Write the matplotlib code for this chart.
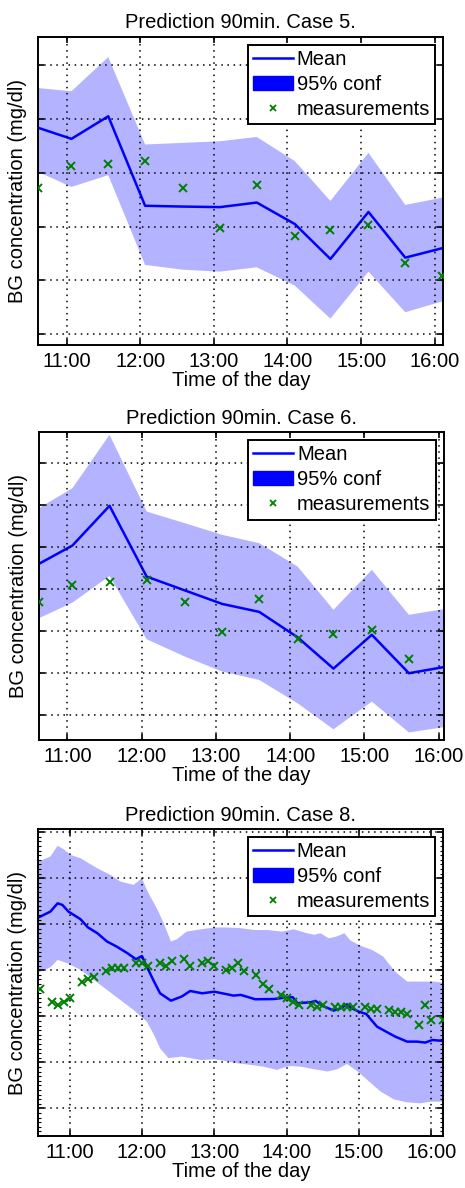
import matplotlib
matplotlib.use("Agg")
import matplotlib.pyplot as plt
from matplotlib.patches import Patch
from matplotlib.lines import Line2D
from matplotlib.ticker import MultipleLocator

plt.rcParams['font.family'] = ['Liberation Sans', 'DejaVu Sans']

# time is in minutes after 10:00
tick_minutes = [60, 120, 180, 240, 300, 360]
tick_labels = ['11:00', '12:00', '13:00', '14:00', '15:00', '16:00']

# Case 5
c5_t = [37, 64, 94, 124, 155, 185, 215, 246, 275, 306, 336, 366]
c5_mean = [176.8, 172.7, 181.1, 147.8, 147.5, 147.3, 149.0, 141.0, 128.0, 145.5, 128.5, 132.0]
c5_upper = [191.6, 190.4, 203.1, 170.6, 171.2, 171.8, 173.4, 164.4, 149.6, 167.5, 148.1, 150.8]
c5_lower = [160.4, 154.8, 159.2, 125.8, 124.0, 123.3, 124.9, 118.1, 105.8, 123.3, 108.2, 112.2]
c5_meas_t = [37, 64, 94, 124, 155, 185, 215, 246, 275, 306, 336, 366]
c5_meas = [154.3, 162.6, 163.4, 164.4, 154.3, 139.5, 155.4, 136.6, 138.7, 140.6, 126.5, 121.6]

# Case 6
c6_t = [37, 64, 94, 124, 155, 185, 215, 246, 275, 306, 336, 364]
c6_mean = [151.8, 160.5, 179.4, 145.7, 139.1, 132.7, 128.9, 116.8, 101.9, 118.0, 99.7, 102.6]
c6_upper = [178.3, 187.8, 213.2, 176.7, 171.1, 165.6, 161.6, 150.5, 129.9, 148.9, 127.5, 130.2]
c6_lower = [125.9, 133.3, 146.0, 115.9, 107.6, 100.5, 96.5, 85.4, 73.0, 86.2, 71.5, 74.0]
c6_meas_t = [37, 64, 94, 124, 155, 185, 215, 246, 275, 306, 336]
c6_meas = [133.8, 141.8, 143.0, 144.1, 133.8, 119.2, 134.9, 116.0, 118.3, 120.3, 106.4]

# Case 8
c8_t = [34, 44, 50, 54, 59, 69, 75, 83, 91, 99, 108, 115, 120, 124, 130, 135, 144,
        153, 160, 170, 180, 196, 202, 214, 229, 239, 245, 249, 260, 264, 270, 279,
        285, 290, 294, 300, 306, 315, 324, 330, 340, 348, 355, 361, 370]
c8_mean = [182.9, 185.5, 189.1, 188.4, 185.5, 182.2, 178.7, 176.1, 172.5, 170.3, 167.4,
           164.8, 166.2, 161.6, 155.1, 150.0, 146.8, 148.6, 151.0, 150.0, 150.7, 149.0,
           149.3, 147.4, 147.5, 148.1, 148.3, 145.7, 146.1, 146.7, 144.5, 142.5, 143.5,
           145.2, 143.5, 142.0, 141.0, 135.5, 132.9, 131.2, 129.0, 129.0, 128.6, 129.7, 129.3]
c8_up_t = [34, 44, 50, 55, 61, 69, 75, 83, 94, 102, 113, 120, 124, 133, 138, 144, 149,
           157, 169, 180, 191, 202, 213, 224, 236, 246, 257, 263, 268, 275, 281, 288,
           293, 303, 311, 320, 330, 340, 351, 362, 370]
c8_upper = [207.2, 209.4, 214.1, 212.6, 210.1, 208.7, 206.8, 204.3, 201.4, 198.6, 197.1,
            200.0, 194.9, 186.2, 180.4, 172.5, 173.5, 176.8, 177.8, 178.6, 178.6, 178.3,
            177.5, 177.5, 176.8, 177.8, 176.1, 175.4, 176.1, 173.9, 174.6, 176.1, 172.9,
            170.3, 168.8, 166.0, 159.4, 155.1, 155.1, 155.1, 154.6]
c8_lo_t = [34, 44, 50, 58, 69, 80, 91, 102, 113, 119, 124, 130, 135, 142, 153, 169, 180,
           188, 199, 210, 221, 232, 238, 243, 252, 263, 274, 282, 290, 299, 307, 318,
           329, 340, 351, 359, 370]
c8_lower = [159.0, 161.3, 164.5, 163.1, 160.2, 155.8, 151.5, 147.1, 142.8, 139.9, 137.7,
            131.9, 126.1, 121.8, 122.5, 121.0, 121.3, 120.7, 119.6, 118.9, 118.1, 116.7,
            117.8, 118.4, 118.1, 117.0, 116.0, 117.0, 119.3, 116.0, 112.3, 107.3, 103.9,
            102.6, 102.2, 102.9, 102.9]
c8_meas_t = [35, 45, 50, 55, 60, 70, 75, 80, 90, 95, 100, 105, 115, 120, 125, 135, 140,
             145, 155, 160, 170, 175, 180, 190, 195, 200, 205, 215, 220, 225, 235, 240,
             245, 250, 260, 265, 270, 280, 285, 290, 295, 305, 310, 315, 325, 330, 335,
             340, 350, 355, 360, 370]
c8_meas = [151.9, 146.1, 144.9, 146.1, 147.8, 155.1, 156.1, 157.0, 159.9, 161.2, 161.2,
           160.9, 163.1, 163.1, 162.0, 163.1, 162.0, 164.1, 164.9, 162.0, 163.1, 164.1,
           162.0, 160.2, 160.9, 163.1, 159.9, 158.0, 154.1, 151.9, 149.3, 147.8, 146.1,
           144.9, 144.9, 143.9, 144.9, 143.9, 143.9, 143.9, 143.9, 143.9, 143.1, 143.1,
           142.8, 142.0, 142.0, 141.0, 136.2, 144.9, 138.4, 138.4]

band_color = '#b3b3ff'
FS = 14.5


def draw_case(ax, title, t, mean, up_t, upper, lo_t, lower, meas_t, meas,
              xlim, ylim, yticks, minor=False):
    # confidence band as one polygon: upper edge then lower edge backwards
    ax.fill(list(up_t) + list(lo_t)[::-1], list(upper) + list(lower)[::-1],
            color=band_color, lw=0, zorder=1)
    ax.plot(t, mean, color='#0000ff', lw=1.8, zorder=2)
    ax.plot(meas_t, meas, ls='none', marker='x', color='#008000',
            ms=5.5, mew=1.4, zorder=3)
    ax.set_xlim(*xlim)
    ax.set_ylim(*ylim)
    ax.set_xticks(tick_minutes)
    ax.set_xticklabels(tick_labels, fontsize=FS)
    ax.set_yticks(yticks)
    ax.set_yticklabels([])
    if minor:
        ax.yaxis.set_minor_locator(MultipleLocator(2))
        ax.tick_params(axis='y', which='minor', direction='in', length=2,
                       left=True, right=True, width=0.8)
    ax.tick_params(axis='both', which='major', direction='in', length=4,
                   top=True, right=True, pad=5, width=1.2)
    ax.grid(True, color='black', ls=(0, (1, 3)), lw=1.1)
    ax.set_axisbelow(False)
    for s in ax.spines.values():
        s.set_linewidth(1.4)
    ax.set_title(title, fontsize=FS, pad=6)
    ax.set_xlabel('Time of the day', fontsize=FS, labelpad=0)
    ax.set_ylabel('BG concentration (mg/dl)', fontsize=FS, labelpad=3)
    handles = [Line2D([], [], color='#0000ff', lw=1.8),
               Patch(facecolor='#0000ff', edgecolor='#0000ff'),
               Line2D([], [], ls='none', marker='x', color='#008000', ms=4.5, mew=1.3)]
    leg = ax.legend(handles, ['Mean', '95% conf', 'measurements'], loc='upper right',
                    fontsize=FS, fancybox=False, framealpha=1, edgecolor='black',
                    handlelength=2.0, handletextpad=0.2, labelspacing=0.3,
                    borderpad=0.25, borderaxespad=0.4)
    leg.get_frame().set_linewidth(1.4)
    leg.set_zorder(10)


fig = plt.figure(figsize=(4.65, 11.88), dpi=100)
ax1 = fig.add_axes([0.0824, 0.7096, 0.871, 0.2595])
ax2 = fig.add_axes([0.0839, 0.3771, 0.870, 0.2590])
ax3 = fig.add_axes([0.0824, 0.0438, 0.871, 0.2582])

draw_case(ax1, 'Prediction 90min. Case 5.', c5_t, c5_mean, c5_t, c5_upper, c5_t, c5_lower,
          c5_meas_t, c5_meas, (37, 367), (96, 210.7), [100, 120, 140, 160, 180, 200])
draw_case(ax2, 'Prediction 90min. Case 6.', c6_t, c6_mean, c6_t, c6_upper, c6_t, c6_lower,
          c6_meas_t, c6_meas, (37, 364), (67.9, 214.4), [80, 100, 120, 140, 160, 180, 200])
draw_case(ax3, 'Prediction 90min. Case 8.', c8_t, c8_mean, c8_up_t, c8_upper, c8_lo_t, c8_lower,
          c8_meas_t, c8_meas, (34, 370), (88.0, 221.3), [100, 120, 140, 160, 180, 200, 220],
          minor=True)

fig.savefig('out.png', dpi=100)
